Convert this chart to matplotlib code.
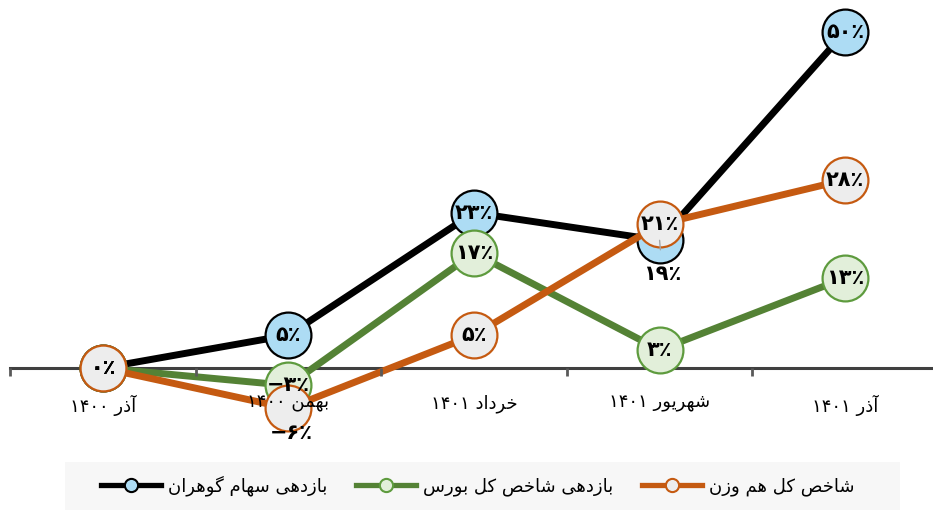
import matplotlib
matplotlib.use('Agg')
import matplotlib.pyplot as plt
from matplotlib.lines import Line2D
from matplotlib.patches import Rectangle

plt.rcParams['font.family'] = ['DejaVu Sans']

# data
months = ['آذر ۱۴۰۰', 'بهمن ۱۴۰۰', 'خرداد ۱۴۰۱', 'شهریور ۱۴۰۱', 'آذر ۱۴۰۱']
gohran = [0, 4.9, 23.1, 19.0, 50.0]
bourse = [0, -2.6, 17.1, 2.7, 13.4]
hamvazn = [0, -6.0, 4.9, 21.4, 28.0]
names = ['بازدهی سهام گوهران', 'بازدهی شاخص کل بورس', 'شاخص کل هم وزن']

# simple arabic/persian shaping (matplotlib has no text shaping)
FORMS = {
    'آ': ('\uFE81', '\uFE82', None, None),
    'ا': ('\uFE8D', '\uFE8E', None, None),
    'ب': ('\uFE8F', '\uFE90', '\uFE91', '\uFE92'),
    'خ': ('\uFEA5', '\uFEA6', '\uFEA7', '\uFEA8'),
    'د': ('\uFEA9', '\uFEAA', None, None),
    'ذ': ('\uFEAB', '\uFEAC', None, None),
    'ر': ('\uFEAD', '\uFEAE', None, None),
    'ز': ('\uFEAF', '\uFEB0', None, None),
    'س': ('\uFEB1', '\uFEB2', '\uFEB3', '\uFEB4'),
    'ش': ('\uFEB5', '\uFEB6', '\uFEB7', '\uFEB8'),
    'ص': ('\uFEB9', '\uFEBA', '\uFEBB', '\uFEBC'),
    'ل': ('\uFEDD', '\uFEDE', '\uFEDF', '\uFEE0'),
    'م': ('\uFEE1', '\uFEE2', '\uFEE3', '\uFEE4'),
    'ن': ('\uFEE5', '\uFEE6', '\uFEE7', '\uFEE8'),
    'ه': ('\uFEE9', '\uFEEA', '\uFEEB', '\uFEEC'),
    'و': ('\uFEED', '\uFEEE', None, None),
    'ک': ('\uFB8E', '\uFB8F', '\uFB90', '\uFB91'),
    'گ': ('\uFB92', '\uFB93', '\uFB94', '\uFB95'),
    'ی': ('\uFBFC', '\uFBFD', '\uFBFE', '\uFBFF'),
}


def shape_word(w):
    out = []
    for i, c in enumerate(w):
        if c not in FORMS:
            out.append(c)
            continue
        prev = w[i - 1] if i > 0 else None
        nxt = w[i + 1] if i + 1 < len(w) else None
        join_prev = prev in FORMS and FORMS[prev][2] is not None
        join_next = nxt in FORMS and FORMS[c][2] is not None
        iso, fin, ini, med = FORMS[c]
        if join_prev and join_next:
            out.append(med)
        elif join_prev:
            out.append(fin)
        elif join_next:
            out.append(ini)
        else:
            out.append(iso)
    return ''.join(reversed(out))


def rtl(s):
    parts = s.split(' ')
    parts = [shape_word(p) if any(ch in FORMS for ch in p) else p for p in parts]
    return ' '.join(reversed(parts))


FA_DIGITS = str.maketrans('0123456789', '۰۱۲۳۴۵۶۷۸۹')


def pct(v):
    r = int(round(abs(v)))
    s = str(r).translate(FA_DIGITS) + '٪'
    return ('−' + s) if v < 0 else s


fig = plt.figure(figsize=(9.33, 5.12), dpi=100)
ax = fig.add_axes([10 / 933, 62 / 512, 928 / 933, 450 / 512])

x = list(range(len(months)))
styles = [
    (gohran, '#000000', '#ADDCF4', '#000000'),
    (bourse, '#548235', '#E2EFDA', '#5E9B3E'),
    (hamvazn, '#C55A11', '#EDEDED', '#C55A11'),
]
for k, (vals, lc, fc, ec) in enumerate(styles):
    ax.plot(x, vals, color=lc, lw=5, marker='o', ms=33, mfc=fc, mec=ec,
            mew=1.6, zorder=3 + k, solid_capstyle='round')

# data labels
for k, (vals, lc, fc, ec) in enumerate(styles):
    for i, v in enumerate(vals):
        dy = 0
        if k == 0 and i == 3:
            dy = -24
        if k == 2 and i == 1:
            dy = -18
        if dy == 0:
            ax.text(i, v, pct(v), ha='center', va='center', fontsize=15,
                    fontweight='bold', zorder=10)
        else:
            ax.annotate(pct(v), xy=(i, v), xytext=(2, dy), textcoords='offset points',
                        ha='center', va='center', fontsize=15, fontweight='bold',
                        zorder=10,
                        arrowprops=dict(arrowstyle='-', color='#a6a6a6', lw=1,
                                        shrinkA=8, shrinkB=0) if k == 0 else None)

ax.set_xlim(-0.5, 4.5)
ax.set_ylim(-12.2, 54.76)
for s in ['top', 'left', 'right']:
    ax.spines[s].set_visible(False)
ax.spines['bottom'].set_position(('data', 0))
ax.spines['bottom'].set_color('#404040')
ax.spines['bottom'].set_linewidth(2.2)
ax.spines['bottom'].set_zorder(2)
ax.set_yticks([])
ax.set_xticks(x)
ax.set_xticklabels([rtl(m) for m in months], fontsize=13)
ax.set_xticks([i - 0.5 for i in range(len(months) + 1)], minor=True)
ax.tick_params(axis='x', which='major', length=0, pad=19)
ax.tick_params(axis='x', which='minor', length=6, width=2, color='#595959', direction='out')
ax.xaxis.set_zorder(9)
ax.patch.set_alpha(0)

# legend
fig.patches.append(Rectangle((65 / 933, 2 / 512), 835 / 933, 48 / 512,
                             transform=fig.transFigure, facecolor='#F7F7F7',
                             edgecolor='none', zorder=0))
handles = [Line2D([], [], color=lc, lw=3.8, marker='o', ms=9.5, mfc=fc, mec=ec, mew=1.5)
           for (vals, lc, fc, ec) in styles]
fig.legend(handles, [rtl(n) for n in names], loc='center',
           bbox_to_anchor=(478 / 933, 26 / 512), ncol=3, frameon=False,
           fontsize=13, handlelength=3.3, columnspacing=1.6, handletextpad=0.4)

fig.savefig('out.png', dpi=100)
